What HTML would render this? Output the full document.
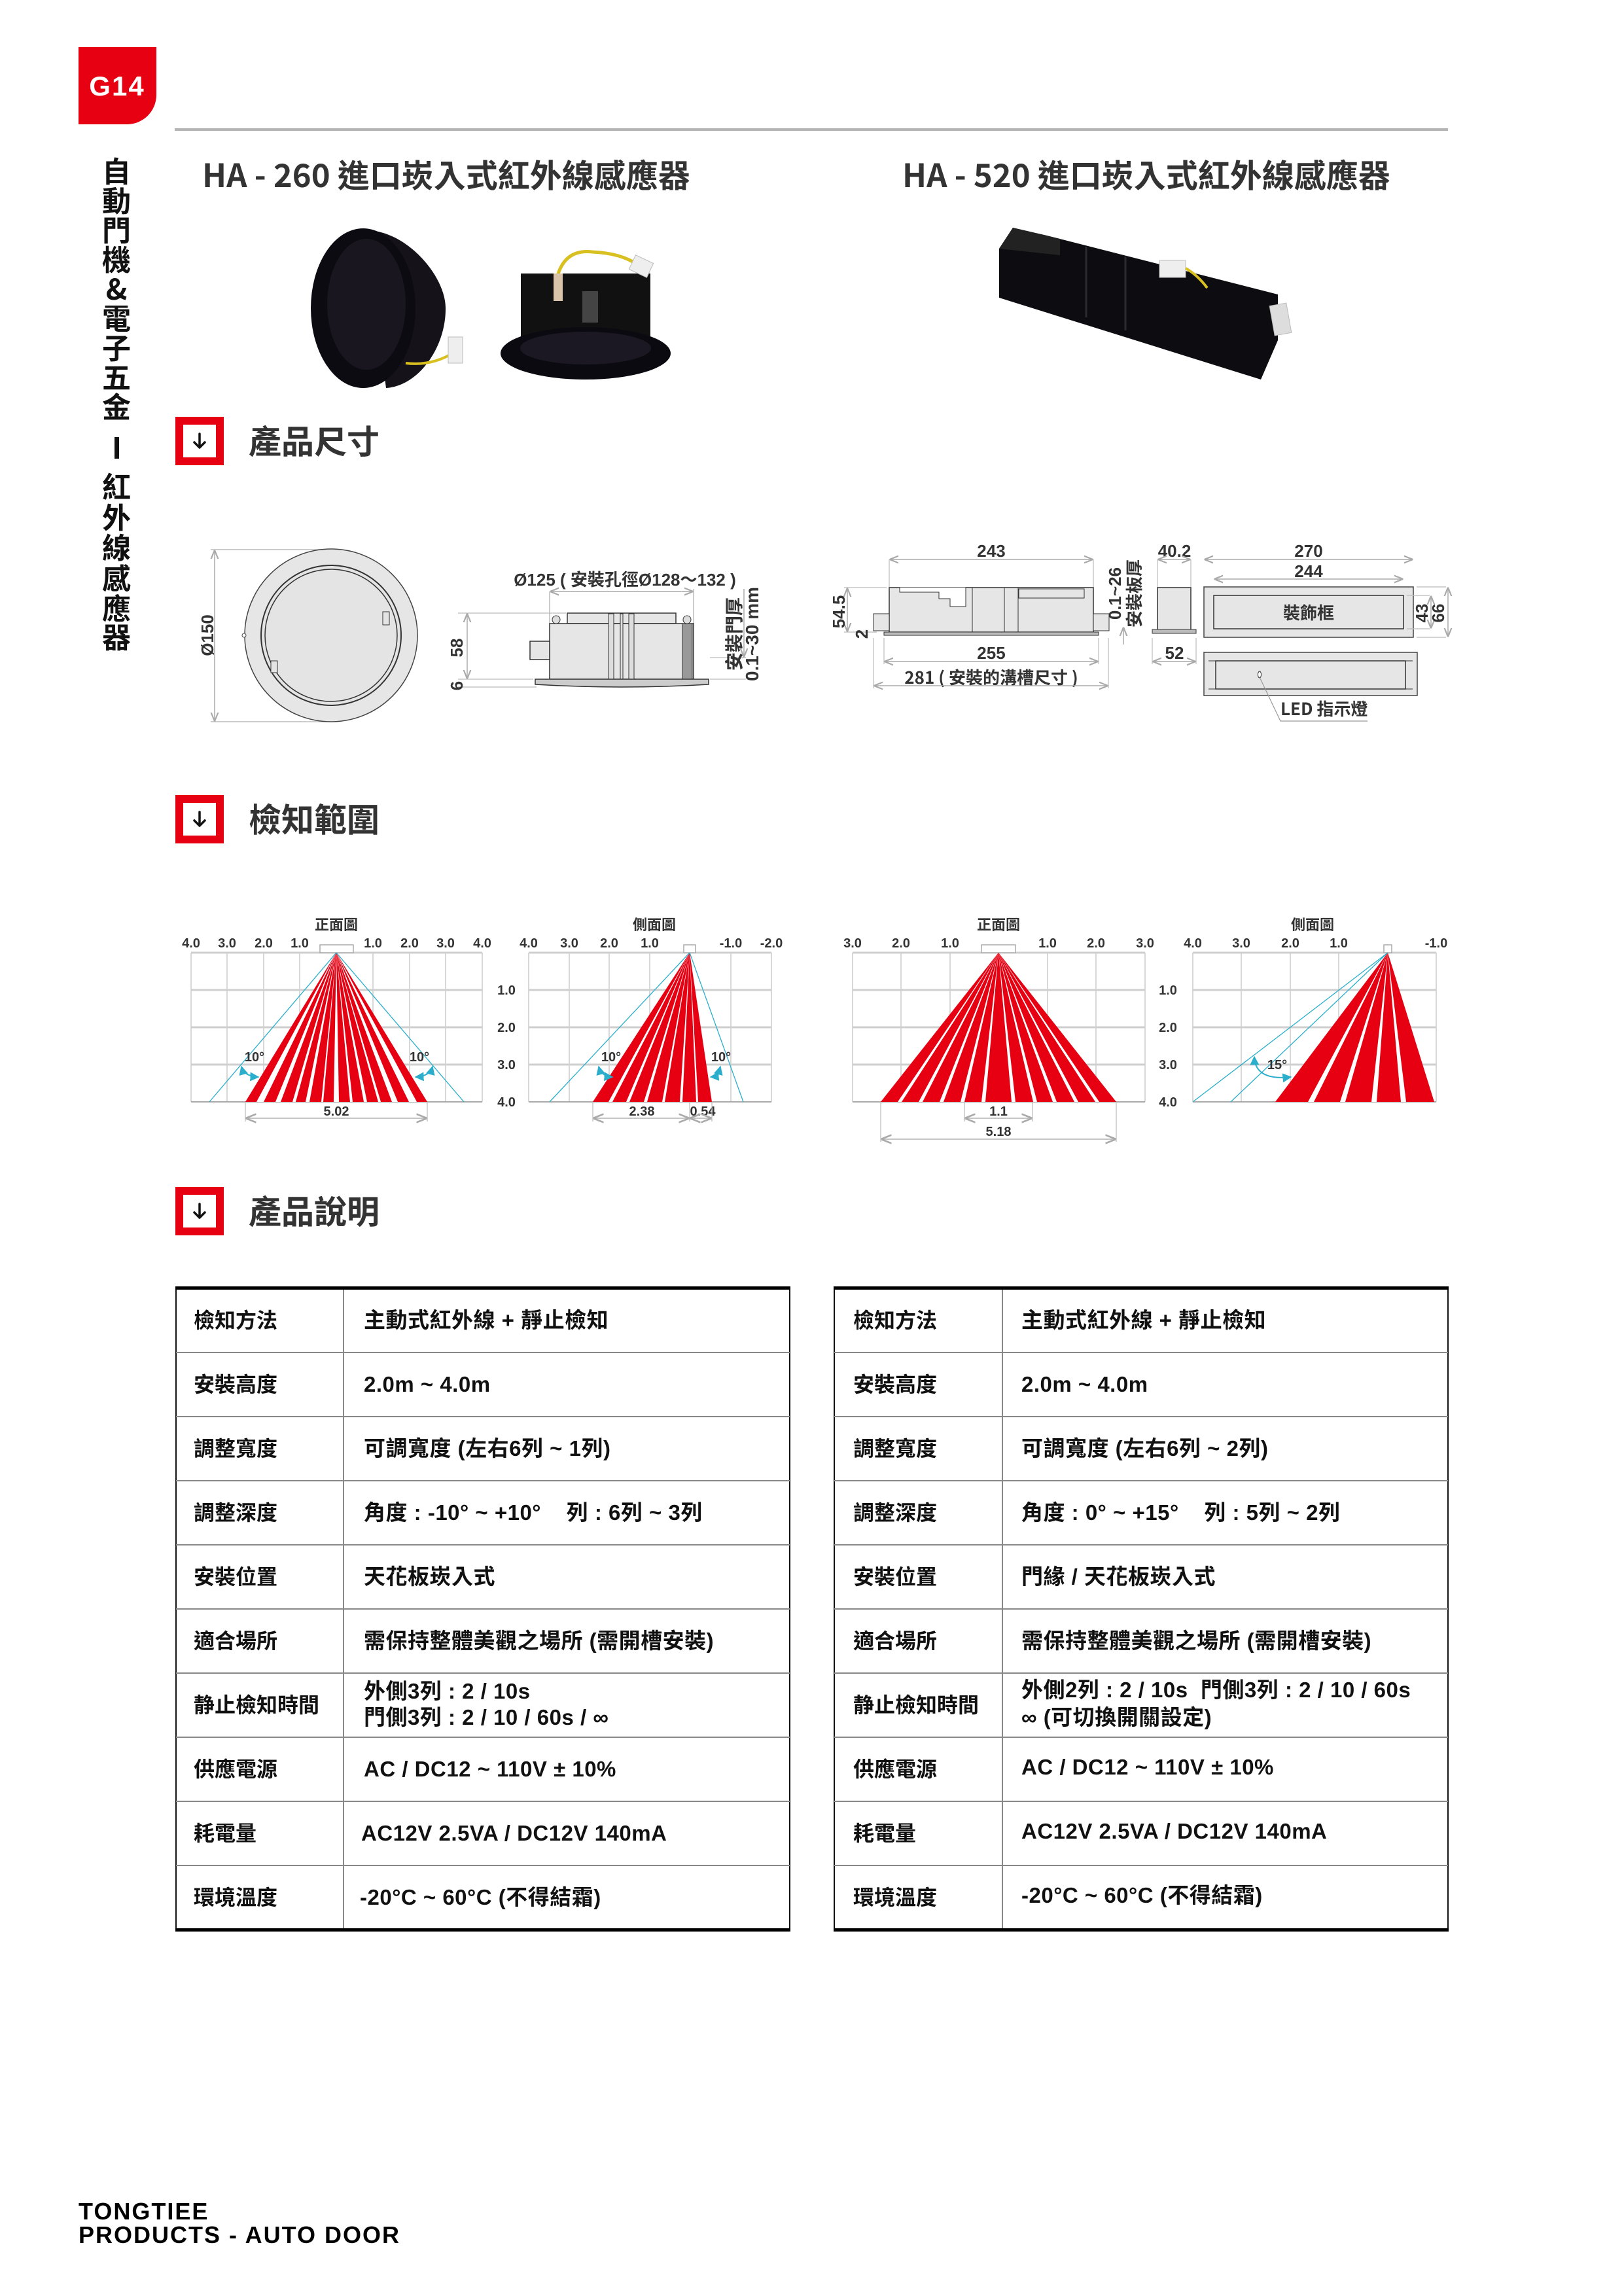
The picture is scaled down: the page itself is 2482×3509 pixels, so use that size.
<!DOCTYPE html>
<html><head><meta charset="utf-8">
<style>
html,body{margin:0;padding:0;background:#fff;}
body{width:2482px;height:3509px;position:relative;overflow:hidden;}
svg{position:absolute;left:0;top:0;}
</style></head>
<body>
<svg width="2482" height="3509" viewBox="0 0 2482 3509" xmlns="http://www.w3.org/2000/svg" font-family="'Liberation Sans','Noto Sans CJK TC',sans-serif">
<defs>
<marker id="ga" viewBox="0 0 10 10" refX="9" refY="5" markerWidth="9" markerHeight="9" orient="auto-start-reverse"><path d="M0,1 L10,5 L0,9" fill="none" stroke="#aaa" stroke-width="1.6"/></marker>
<marker id="ba" viewBox="0 0 10 10" refX="9" refY="5" markerWidth="7" markerHeight="7" orient="auto-start-reverse"><path d="M0,0 L10,5 L0,10 z" fill="#2aaecb"/></marker>
<g id="arr"><path d="M0,-11 V9 M-8,2 L0,10 L8,2" fill="none" stroke="#111" stroke-width="3.5" stroke-linecap="round" stroke-linejoin="round"/></g>
</defs>

<!-- badge -->
<path d="M120,72 H239 V145 A45,45 0 0 1 194,190 H120 Z" fill="#e60012"/>
<text x="179" y="146" font-size="42" font-weight="700" fill="#fff" text-anchor="middle" letter-spacing="2">G14</text>

<!-- sidebar -->
<g font-size="44" font-weight="700" fill="#111" text-anchor="middle" font-family="'Noto Sans CJK TC',sans-serif">
<text x="178" y="278">自</text><text x="178" y="323">動</text><text x="178" y="368">門</text><text x="178" y="413">機</text><text x="178" y="458">&amp;</text><text x="178" y="503">電</text><text x="178" y="548">子</text><text x="178" y="593">五</text><text x="178" y="638">金</text>
<rect x="175" y="668" width="7" height="33" fill="#111"/>
<text x="178" y="760">紅</text><text x="178" y="807">外</text><text x="178" y="853">線</text><text x="178" y="900">感</text><text x="178" y="946">應</text><text x="178" y="990">器</text>
</g>

<!-- top gray line -->
<rect x="267" y="196" width="1946" height="4" fill="#b5b5b5"/>

<!-- titles -->
<g font-size="49" font-weight="700" fill="#333" font-family="'Noto Sans CJK TC',sans-serif">
<text x="309" y="286">HA - 260 進口崁入式紅外線感應器</text>
<text x="1379" y="286">HA - 520 進口崁入式紅外線感應器</text>
</g>

<!-- HA-260 photos -->
<g>
<path d="M560,352 C620,352 680,420 681,470 C682,530 640,590 590,593 Z" fill="#15121a"/>
<ellipse cx="555" cy="471" rx="80" ry="122" fill="#0d0b12"/>
<ellipse cx="560" cy="465" rx="60" ry="100" fill="#19161f"/>
<path d="M620,555 Q660,560 695,538" stroke="#d8c020" stroke-width="4" fill="none"/>
<rect x="685" y="515" width="22" height="40" fill="#eee" stroke="#bbb"/>
<rect x="796" y="418" width="198" height="100" fill="#111"/>
<ellipse cx="895" cy="540" rx="130" ry="40" fill="#0b0a10"/>
<ellipse cx="895" cy="532" rx="100" ry="25" fill="#1b1823"/>
<path d="M850,430 Q860,380 905,385 Q950,387 975,405" stroke="#d8c020" stroke-width="5" fill="none"/>
<rect x="965" y="395" width="30" height="24" fill="#eee" stroke="#bbb" transform="rotate(25 980 407)"/>
<rect x="846" y="418" width="14" height="42" fill="#d9c4aa"/>
<rect x="890" y="445" width="24" height="48" fill="#444"/>
</g>

<!-- HA-520 photo -->
<g>
<polygon points="1527,380 1548,348 1600,360 1953,450 1953,520 1927,580 1527,455" fill="#0d0c11"/>
<polygon points="1527,380 1548,348 1620,365 1620,390" fill="#222"/>
<line x1="1660" y1="377" x2="1660" y2="485" stroke="#2a2a30" stroke-width="3"/>
<line x1="1720" y1="392" x2="1720" y2="505" stroke="#2a2a30" stroke-width="3"/>
<rect x="1772" y="398" width="40" height="26" fill="#eee" stroke="#bbb"/>
<path d="M1812,410 Q1830,420 1845,440" stroke="#d8c020" stroke-width="4" fill="none"/>
<rect x="1944" y="465" width="26" height="46" fill="#ddd" stroke="#bbb" transform="rotate(-10 1957 488)"/>
</g>

<!-- section headers -->
<g>
<rect x="274" y="643" width="62" height="62" fill="none" stroke="#e60012" stroke-width="12"/>
<use href="#arr" x="305" y="674"/>
<text x="380" y="693" font-size="50" font-weight="700" fill="#333" font-family="'Noto Sans CJK TC',sans-serif">產品尺寸</text>
<rect x="274" y="1221" width="62" height="62" fill="none" stroke="#e60012" stroke-width="12"/>
<use href="#arr" x="305" y="1252"/>
<text x="380" y="1271" font-size="50" font-weight="700" fill="#333" font-family="'Noto Sans CJK TC',sans-serif">檢知範圍</text>
<rect x="274" y="1820" width="62" height="62" fill="none" stroke="#e60012" stroke-width="12"/>
<use href="#arr" x="305" y="1851"/>
<text x="380" y="1870" font-size="50" font-weight="700" fill="#333" font-family="'Noto Sans CJK TC',sans-serif">產品說明</text>
</g>

<!-- HA-260 dimension: top view -->
<g>
<line x1="322" y1="840" x2="506" y2="840" stroke="#bbb" stroke-width="1.5"/>
<line x1="322" y1="1103" x2="506" y2="1103" stroke="#bbb" stroke-width="1.5"/>
<line x1="328" y1="842" x2="328" y2="1101" stroke="#aaa" stroke-width="1.5" marker-start="url(#ga)" marker-end="url(#ga)"/>
<text transform="translate(326 971) rotate(-90)" font-size="26" font-weight="700" fill="#333" text-anchor="middle">Ø150</text>
<circle cx="506" cy="971" r="132" fill="#e6e6e6" stroke="#444" stroke-width="1.5"/>
<circle cx="506" cy="971" r="107" fill="#e4e4e4" stroke="#333" stroke-width="2"/>
<circle cx="506" cy="971" r="101" fill="none" stroke="#333" stroke-width="1.5"/>
<rect x="585" y="935" width="10" height="20" fill="#e4e4e4" stroke="#333"/>
<rect x="414" y="1010" width="10" height="18" fill="#e4e4e4" stroke="#333"/>
<circle cx="373" cy="971" r="3" fill="#fff" stroke="#444"/>
</g>

<!-- HA-260 side view -->
<g>
<text x="955" y="895" font-size="26" font-weight="700" fill="#333" text-anchor="middle">Ø125 ( 安裝孔徑Ø128～132 )</text>
<line x1="840" y1="904" x2="840" y2="953" stroke="#bbb" stroke-width="1.5"/>
<line x1="1060" y1="900" x2="1060" y2="953" stroke="#bbb" stroke-width="1.5"/>
<line x1="842" y1="904" x2="1058" y2="904" stroke="#aaa" stroke-width="1.5" marker-start="url(#ga)" marker-end="url(#ga)"/>
<line x1="700" y1="937" x2="865" y2="937" stroke="#bbb" stroke-width="1.2"/>
<line x1="700" y1="1038" x2="815" y2="1038" stroke="#bbb" stroke-width="1.2"/>
<line x1="700" y1="1050" x2="820" y2="1050" stroke="#bbb" stroke-width="1.2"/>
<line x1="714" y1="939" x2="714" y2="1036" stroke="#aaa" stroke-width="1.5" marker-start="url(#ga)" marker-end="url(#ga)"/>
<text transform="translate(707 990) rotate(-90)" font-size="26" font-weight="700" fill="#333" text-anchor="middle">58</text>
<text transform="translate(707 1048) rotate(-90)" font-size="26" font-weight="700" fill="#333" text-anchor="middle">6</text>
<rect x="867" y="937" width="166" height="16" fill="#e6e6e6" stroke="#333" stroke-width="1.5"/>
<rect x="840" y="953" width="220" height="85" fill="#e6e6e6" stroke="#333" stroke-width="1.5"/>
<rect x="810" y="980" width="30" height="28" fill="#e6e6e6" stroke="#333" stroke-width="1.5"/>
<rect x="930" y="938" width="8" height="100" fill="#ddd" stroke="#333"/>
<rect x="948" y="938" width="4" height="100" fill="#ddd" stroke="#333"/>
<rect x="961" y="938" width="8" height="100" fill="#ddd" stroke="#333"/>
<rect x="1043" y="953" width="15" height="85" fill="#999" stroke="#333"/>
<circle cx="850" cy="947" r="6" fill="#ddd" stroke="#333"/>
<circle cx="1050" cy="947" r="6" fill="#ddd" stroke="#333"/>
<path d="M818,1038 H1083 V1046 Q950,1054 818,1046 Z" fill="#ccc" stroke="#333" stroke-width="1.5"/>
<line x1="1085" y1="1038" x2="1140" y2="1038" stroke="#bbb" stroke-width="1.2"/>
<line x1="1085" y1="1005" x2="1140" y2="1005" stroke="#bbb" stroke-width="1.2"/>
<line x1="1137" y1="900" x2="1137" y2="1003" stroke="#aaa" stroke-width="1.5" marker-end="url(#ga)"/>
<text transform="translate(1132 969) rotate(-90)" font-size="28" font-weight="700" fill="#333" text-anchor="middle" font-family="'Noto Sans CJK TC',sans-serif">安裝門厚</text>
<text transform="translate(1159 969) rotate(-90)" font-size="28" font-weight="700" fill="#333" text-anchor="middle">0.1~30 mm</text>
</g>

<!-- HA-520 dimensions -->
<g font-size="26" font-weight="700" fill="#333" text-anchor="middle">
<text x="1515" y="851">243</text>
<line x1="1359" y1="855" x2="1359" y2="898" stroke="#bbb" stroke-width="1.2"/>
<line x1="1671" y1="855" x2="1671" y2="898" stroke="#bbb" stroke-width="1.2"/>
<line x1="1361" y1="855" x2="1669" y2="855" stroke="#aaa" stroke-width="1.5" marker-start="url(#ga)" marker-end="url(#ga)"/>
<rect x="1359" y="898" width="312" height="68" fill="#e6e6e6" stroke="#333" stroke-width="1.5"/>
<rect x="1335" y="938" width="24" height="26" fill="#e6e6e6" stroke="#333"/>
<rect x="1671" y="938" width="24" height="26" fill="#e6e6e6" stroke="#333"/>
<rect x="1351" y="966" width="328" height="5" fill="#bbb" stroke="#333"/>
<path d="M1375,898 V905 H1435 V915 H1452 V927 H1476 V898" fill="#fff" stroke="#333"/>
<line x1="1486" y1="898" x2="1486" y2="966" stroke="#333"/>
<line x1="1535" y1="898" x2="1535" y2="966" stroke="#333"/>
<line x1="1556" y1="898" x2="1556" y2="966" stroke="#333"/>
<rect x="1557" y="900" width="100" height="14" fill="none" stroke="#333"/>
<line x1="1290" y1="898" x2="1355" y2="898" stroke="#bbb" stroke-width="1.2"/>
<line x1="1290" y1="966" x2="1340" y2="966" stroke="#bbb" stroke-width="1.2"/>
<line x1="1295" y1="900" x2="1295" y2="964" stroke="#aaa" stroke-width="1.5" marker-start="url(#ga)" marker-end="url(#ga)"/>
<text transform="translate(1291 935) rotate(-90)">54.5</text>
<text transform="translate(1326 969) rotate(-90)">2</text>
<text x="1515" y="1007">255</text>
<line x1="1351" y1="975" x2="1351" y2="1015" stroke="#bbb" stroke-width="1.2"/>
<line x1="1679" y1="975" x2="1679" y2="1015" stroke="#bbb" stroke-width="1.2"/>
<line x1="1353" y1="1011" x2="1677" y2="1011" stroke="#aaa" stroke-width="1.5" marker-start="url(#ga)" marker-end="url(#ga)"/>
<text x="1515" y="1045" font-family="'Noto Sans CJK TC',sans-serif">281 ( 安裝的溝槽尺寸 )</text>
<line x1="1335" y1="975" x2="1335" y2="1052" stroke="#bbb" stroke-width="1.2"/>
<line x1="1694" y1="975" x2="1694" y2="1052" stroke="#bbb" stroke-width="1.2"/>
<line x1="1337" y1="1048" x2="1692" y2="1048" stroke="#aaa" stroke-width="1.5" marker-start="url(#ga)" marker-end="url(#ga)"/>
<text transform="translate(1713 907) rotate(-90)">0.1~26</text>
<text transform="translate(1743 907) rotate(-90)" font-family="'Noto Sans CJK TC',sans-serif">安裝板厚</text>
<line x1="1717" y1="960" x2="1717" y2="985" stroke="#aaa" stroke-width="1.5" marker-start="url(#ga)"/>
<text x="1795" y="851">40.2</text>
<line x1="1769" y1="855" x2="1769" y2="898" stroke="#bbb" stroke-width="1.2"/>
<line x1="1820" y1="855" x2="1820" y2="898" stroke="#bbb" stroke-width="1.2"/>
<line x1="1771" y1="855" x2="1818" y2="855" stroke="#aaa" stroke-width="1.5" marker-start="url(#ga)" marker-end="url(#ga)"/>
<rect x="1769" y="898" width="51" height="68" fill="#e6e6e6" stroke="#333" stroke-width="1.5"/>
<rect x="1761" y="962" width="67" height="6" fill="#bbb" stroke="#333"/>
<text x="1795" y="1007">52</text>
<line x1="1761" y1="975" x2="1761" y2="1015" stroke="#bbb" stroke-width="1.2"/>
<line x1="1828" y1="975" x2="1828" y2="1015" stroke="#bbb" stroke-width="1.2"/>
<line x1="1763" y1="1011" x2="1826" y2="1011" stroke="#aaa" stroke-width="1.5" marker-start="url(#ga)" marker-end="url(#ga)"/>
<text x="2000" y="851">270</text>
<line x1="1842" y1="855" x2="2158" y2="855" stroke="#aaa" stroke-width="1.5" marker-start="url(#ga)" marker-end="url(#ga)"/>
<text x="2000" y="882">244</text>
<line x1="1857" y1="885" x2="2143" y2="885" stroke="#aaa" stroke-width="1.5" marker-start="url(#ga)" marker-end="url(#ga)"/>
<rect x="1840" y="897" width="320" height="77" fill="#e6e6e6" stroke="#444" stroke-width="1.5"/>
<rect x="1855" y="910" width="290" height="51" fill="#e6e6e6" stroke="#333" stroke-width="1.5"/>
<text x="2000" y="946" font-family="'Noto Sans CJK TC',sans-serif">裝飾框</text>
<line x1="2150" y1="910" x2="2185" y2="910" stroke="#bbb" stroke-width="1.2"/>
<line x1="2150" y1="961" x2="2185" y2="961" stroke="#bbb" stroke-width="1.2"/>
<line x1="2165" y1="897" x2="2210" y2="897" stroke="#bbb" stroke-width="1.2"/>
<line x1="2165" y1="974" x2="2210" y2="974" stroke="#bbb" stroke-width="1.2"/>
<line x1="2187" y1="912" x2="2187" y2="959" stroke="#aaa" stroke-width="1.5" marker-start="url(#ga)" marker-end="url(#ga)"/>
<line x1="2213" y1="899" x2="2213" y2="972" stroke="#aaa" stroke-width="1.5" marker-start="url(#ga)" marker-end="url(#ga)"/>
<text transform="translate(2182 937) rotate(-90)">43</text>
<text transform="translate(2207 937) rotate(-90)">66</text>
<rect x="1840" y="997" width="326" height="66" fill="#e6e6e6" stroke="#444" stroke-width="1.5"/>
<path d="M1847,1010 H1858 V1053 H1847" fill="none" stroke="#333"/>
<path d="M2159,1010 H2148 V1053 H2159" fill="none" stroke="#333"/>
<rect x="1858" y="1010" width="290" height="43" fill="#e6e6e6" stroke="#333" stroke-width="1.5"/>
<ellipse cx="1925" cy="1031" rx="2.5" ry="5" fill="#fff" stroke="#333"/>
<polyline points="1926,1037 1957,1102 2090,1102" fill="none" stroke="#999" stroke-width="1.2"/>
<text x="1957" y="1093" text-anchor="start" font-family="'Noto Sans CJK TC',sans-serif">LED 指示燈</text>
</g>

<!-- Charts -->
<g font-weight="700" fill="#333" text-anchor="middle">
<g stroke="#c4c4c4" stroke-width="1.3">
<line x1="292" y1="1456" x2="292" y2="1684"/><line x1="347" y1="1456" x2="347" y2="1684"/><line x1="403" y1="1456" x2="403" y2="1684"/><line x1="458" y1="1456" x2="458" y2="1684"/><line x1="514" y1="1456" x2="514" y2="1684"/><line x1="570" y1="1456" x2="570" y2="1684"/><line x1="626" y1="1456" x2="626" y2="1684"/><line x1="681" y1="1456" x2="681" y2="1684"/><line x1="737" y1="1456" x2="737" y2="1684"/>
<line x1="808" y1="1456" x2="808" y2="1684"/><line x1="870" y1="1456" x2="870" y2="1684"/><line x1="931" y1="1456" x2="931" y2="1684"/><line x1="993" y1="1456" x2="993" y2="1684"/><line x1="1054" y1="1456" x2="1054" y2="1684"/><line x1="1117" y1="1456" x2="1117" y2="1684"/><line x1="1179" y1="1456" x2="1179" y2="1684"/>
<line x1="1303" y1="1456" x2="1303" y2="1684"/><line x1="1377" y1="1456" x2="1377" y2="1684"/><line x1="1452" y1="1456" x2="1452" y2="1684"/><line x1="1526" y1="1456" x2="1526" y2="1684"/><line x1="1601" y1="1456" x2="1601" y2="1684"/><line x1="1675" y1="1456" x2="1675" y2="1684"/><line x1="1750" y1="1456" x2="1750" y2="1684"/>
<line x1="1823" y1="1456" x2="1823" y2="1684"/><line x1="1897" y1="1456" x2="1897" y2="1684"/><line x1="1972" y1="1456" x2="1972" y2="1684"/><line x1="2046" y1="1456" x2="2046" y2="1684"/><line x1="2121" y1="1456" x2="2121" y2="1684"/><line x1="2195" y1="1456" x2="2195" y2="1684"/>
</g>
<g stroke="#cfcfcf" stroke-width="3">
<line x1="292" y1="1456" x2="737" y2="1456"/><line x1="292" y1="1513" x2="737" y2="1513"/><line x1="292" y1="1570" x2="737" y2="1570"/><line x1="292" y1="1627" x2="737" y2="1627"/>
<line x1="808" y1="1456" x2="1179" y2="1456"/><line x1="808" y1="1513" x2="1179" y2="1513"/><line x1="808" y1="1570" x2="1179" y2="1570"/><line x1="808" y1="1627" x2="1179" y2="1627"/>
<line x1="1303" y1="1456" x2="1750" y2="1456"/><line x1="1303" y1="1513" x2="1750" y2="1513"/><line x1="1303" y1="1570" x2="1750" y2="1570"/><line x1="1303" y1="1627" x2="1750" y2="1627"/>
<line x1="1823" y1="1456" x2="2195" y2="1456"/><line x1="1823" y1="1513" x2="2195" y2="1513"/><line x1="1823" y1="1570" x2="2195" y2="1570"/><line x1="1823" y1="1627" x2="2195" y2="1627"/>
</g>
<g stroke="#aaa" stroke-width="2">
<line x1="292" y1="1684" x2="737" y2="1684"/><line x1="808" y1="1684" x2="1179" y2="1684"/><line x1="1303" y1="1684" x2="1750" y2="1684"/><line x1="1823" y1="1684" x2="2195" y2="1684"/>
</g>
<g fill="#fff" stroke="#aaa" stroke-width="1.5">
<rect x="489" y="1444" width="51" height="12"/><rect x="1045" y="1444" width="18" height="12"/><rect x="1500" y="1444" width="52" height="12"/><rect x="2115" y="1444" width="12" height="12"/>
</g>

<polygon points="514,1456 375,1684 653,1684" fill="#e60012"/>
<g fill="#fff">
<polygon points="514,1456 392,1684 403,1684"/><polygon points="514,1456 421,1684 429,1684"/><polygon points="514,1456 447,1684 452,1684"/><polygon points="514,1456 467,1684 473,1684"/><polygon points="514,1456 491,1684 494,1684"/><polygon points="514,1456 510,1684 518,1684"/><polygon points="514,1456 535,1684 539,1684"/><polygon points="514,1456 556,1684 561,1684"/><polygon points="514,1456 578,1684 582,1684"/><polygon points="514,1456 599,1684 608,1684"/><polygon points="514,1456 625,1684 637,1684"/>
</g>
<polygon points="1054,1456 906,1684 1088,1684" fill="#e60012"/>
<g fill="#fff">
<polygon points="1054,1456 930,1684 936,1684"/><polygon points="1054,1456 957,1684 962,1684"/><polygon points="1054,1456 984,1684 989,1684"/><polygon points="1054,1456 1012,1684 1016,1684"/><polygon points="1054,1456 1039,1684 1043,1684"/><polygon points="1054,1456 1064,1684 1067,1684"/>
</g>
<polygon points="1526,1456 1346,1684 1706,1684" fill="#e60012"/>
<g fill="#fff">
<polygon points="1526,1456 1372,1684 1378,1684"/><polygon points="1526,1456 1404,1684 1410,1684"/><polygon points="1526,1456 1436,1684 1442,1684"/><polygon points="1526,1456 1468,1684 1474,1684"/><polygon points="1526,1456 1500,1684 1506,1684"/><polygon points="1526,1456 1546,1684 1552,1684"/><polygon points="1526,1456 1579,1684 1585,1684"/><polygon points="1526,1456 1609,1684 1615,1684"/><polygon points="1526,1456 1642,1684 1648,1684"/><polygon points="1526,1456 1674,1684 1680,1684"/>
</g>
<polygon points="2121,1456 1949,1684 2192,1684" fill="#e60012"/>
<g fill="#fff">
<polygon points="2121,1456 1999,1684 2008,1684"/><polygon points="2121,1456 2048,1684 2056,1684"/><polygon points="2121,1456 2096,1684 2104,1684"/><polygon points="2121,1456 2141,1684 2149,1684"/>
</g>

<g stroke="#2aaecb" stroke-width="1.3" fill="none">
<line x1="514" y1="1456" x2="320" y2="1684"/><line x1="514" y1="1456" x2="709" y2="1684"/>
<line x1="1054" y1="1456" x2="840" y2="1684"/><line x1="1054" y1="1456" x2="1136" y2="1684"/>
<line x1="2121" y1="1456" x2="1823" y2="1684"/><line x1="2121" y1="1456" x2="1881" y2="1684"/>
<path d="M369,1630 Q373,1645 395,1646" stroke-width="2" marker-start="url(#ba)" marker-end="url(#ba)"/>
<path d="M661,1630 Q657,1645 635,1646" stroke-width="2" marker-start="url(#ba)" marker-end="url(#ba)"/>
<path d="M915,1630 Q919,1645 936,1646" stroke-width="2" marker-start="url(#ba)" marker-end="url(#ba)"/>
<path d="M1101,1630 Q1097,1645 1086,1646" stroke-width="2" marker-start="url(#ba)" marker-end="url(#ba)"/>
<path d="M1917,1615 Q1918,1652 1973,1646" stroke-width="2" marker-start="url(#ba)" marker-end="url(#ba)"/>
</g>

<g font-size="22" font-family="'Noto Sans CJK TC',sans-serif">
<text x="514" y="1421">正面圖</text><text x="1000" y="1421">側面圖</text><text x="1526" y="1421">正面圖</text><text x="2006" y="1421">側面圖</text>
</g>
<g font-size="20">
<text x="292" y="1448">4.0</text><text x="347" y="1448">3.0</text><text x="403" y="1448">2.0</text><text x="458" y="1448">1.0</text><text x="570" y="1448">1.0</text><text x="626" y="1448">2.0</text><text x="681" y="1448">3.0</text><text x="737" y="1448">4.0</text>
<text x="808" y="1448">4.0</text><text x="870" y="1448">3.0</text><text x="931" y="1448">2.0</text><text x="993" y="1448">1.0</text><text x="1117" y="1448">-1.0</text><text x="1179" y="1448">-2.0</text>
<text x="1303" y="1448">3.0</text><text x="1377" y="1448">2.0</text><text x="1452" y="1448">1.0</text><text x="1601" y="1448">1.0</text><text x="1675" y="1448">2.0</text><text x="1750" y="1448">3.0</text>
<text x="1823" y="1448">4.0</text><text x="1897" y="1448">3.0</text><text x="1972" y="1448">2.0</text><text x="2046" y="1448">1.0</text><text x="2195" y="1448">-1.0</text>
<text x="774" y="1520">1.0</text><text x="774" y="1577">2.0</text><text x="774" y="1634">3.0</text><text x="774" y="1691">4.0</text>
<text x="1785" y="1520">1.0</text><text x="1785" y="1577">2.0</text><text x="1785" y="1634">3.0</text><text x="1785" y="1691">4.0</text>
<text x="389" y="1622">10°</text><text x="641" y="1622">10°</text><text x="934" y="1622">10°</text><text x="1102" y="1622">10°</text><text x="1952" y="1634">15°</text>
<text x="514" y="1705">5.02</text><text x="981" y="1705">2.38</text><text x="1074" y="1705">0.54</text>
<text x="1526" y="1705">1.1</text><text x="1526" y="1736">5.18</text>
</g>
<g stroke="#bbb" stroke-width="1.2">
<line x1="375" y1="1684" x2="375" y2="1714"/><line x1="653" y1="1684" x2="653" y2="1714"/>
<line x1="906" y1="1684" x2="906" y2="1714"/><line x1="1054" y1="1684" x2="1054" y2="1714"/><line x1="1088" y1="1684" x2="1088" y2="1714"/>
<line x1="1346" y1="1684" x2="1346" y2="1745"/><line x1="1706" y1="1684" x2="1706" y2="1745"/><line x1="1474" y1="1684" x2="1474" y2="1714"/><line x1="1578" y1="1684" x2="1578" y2="1714"/>
</g>
<g stroke="#bbb" stroke-width="1.8" fill="none">
<line x1="377" y1="1709" x2="651" y2="1709" marker-start="url(#ga)" marker-end="url(#ga)"/>
<line x1="908" y1="1709" x2="1052" y2="1709" marker-start="url(#ga)" marker-end="url(#ga)"/>
<line x1="1056" y1="1709" x2="1086" y2="1709" marker-start="url(#ga)" marker-end="url(#ga)"/>
<line x1="1476" y1="1709" x2="1576" y2="1709" marker-start="url(#ga)" marker-end="url(#ga)"/>
<line x1="1348" y1="1741" x2="1704" y2="1741" marker-start="url(#ga)" marker-end="url(#ga)"/>
</g>
</g>

<!-- Tables (row height 98) -->
<g stroke-width="2">
<rect x="269" y="1969" width="938" height="980" fill="none" stroke="#111" stroke-width="2"/>
<line x1="525" y1="1969" x2="525" y2="2949" stroke="#888"/>
<g stroke="#888">
<line x1="269" y1="2067" x2="1207" y2="2067"/><line x1="269" y1="2165" x2="1207" y2="2165"/><line x1="269" y1="2263" x2="1207" y2="2263"/><line x1="269" y1="2361" x2="1207" y2="2361"/><line x1="269" y1="2459" x2="1207" y2="2459"/><line x1="269" y1="2557" x2="1207" y2="2557"/><line x1="269" y1="2655" x2="1207" y2="2655"/><line x1="269" y1="2753" x2="1207" y2="2753"/><line x1="269" y1="2851" x2="1207" y2="2851"/>
</g>
<rect x="268" y="1966" width="940" height="5" fill="#000" stroke="none"/>
<rect x="268" y="2947" width="940" height="5" fill="#000" stroke="none"/>
<rect x="1275" y="1969" width="938" height="980" fill="none" stroke="#111" stroke-width="2"/>
<line x1="1532" y1="1969" x2="1532" y2="2949" stroke="#888"/>
<g stroke="#888">
<line x1="1275" y1="2067" x2="2213" y2="2067"/><line x1="1275" y1="2165" x2="2213" y2="2165"/><line x1="1275" y1="2263" x2="2213" y2="2263"/><line x1="1275" y1="2361" x2="2213" y2="2361"/><line x1="1275" y1="2459" x2="2213" y2="2459"/><line x1="1275" y1="2557" x2="2213" y2="2557"/><line x1="1275" y1="2655" x2="2213" y2="2655"/><line x1="1275" y1="2753" x2="2213" y2="2753"/><line x1="1275" y1="2851" x2="2213" y2="2851"/>
</g>
<rect x="1274" y="1966" width="940" height="5" fill="#000" stroke="none"/>
<rect x="1274" y="2947" width="940" height="5" fill="#000" stroke="none"/>
</g>
<g font-size="32" font-weight="700" fill="#111">
<text x="296" y="2029">檢知方法</text><text x="296" y="2127">安裝高度</text><text x="296" y="2225">調整寬度</text><text x="296" y="2323">調整深度</text><text x="296" y="2421">安裝位置</text><text x="296" y="2519">適合場所</text><text x="296" y="2617">静止檢知時間</text><text x="296" y="2715">供應電源</text><text x="296" y="2813">耗電量</text><text x="296" y="2911">環境溫度</text>
<text x="1304" y="2029">檢知方法</text><text x="1304" y="2127">安裝高度</text><text x="1304" y="2225">調整寬度</text><text x="1304" y="2323">調整深度</text><text x="1304" y="2421">安裝位置</text><text x="1304" y="2519">適合場所</text><text x="1304" y="2617">静止檢知時間</text><text x="1304" y="2715">供應電源</text><text x="1304" y="2813">耗電量</text><text x="1304" y="2911">環境溫度</text>
</g>
<g font-size="33" font-weight="700" fill="#111" letter-spacing="0.5">
<text x="556" y="2029">主動式紅外線 + 靜止檢知</text>
<text x="556" y="2127">2.0m ~ 4.0m</text>
<text x="556" y="2225">可調寬度 (左右6列 ~ 1列)</text>
<text x="556" y="2323" xml:space="preserve">角度 : -10° ~ +10°    列 : 6列 ~ 3列</text>
<text x="556" y="2421">天花板崁入式</text>
<text x="556" y="2519">需保持整體美觀之場所 (需開槽安裝)</text>
<text x="556" y="2596">外側3列 : 2 / 10s</text>
<text x="556" y="2636">門側3列 : 2 / 10 / 60s / ∞</text>
<text x="556" y="2715">AC / DC12 ~ 110V ± 10%</text>
<text x="552" y="2813">AC12V 2.5VA / DC12V 140mA</text>
<text x="550" y="2911">-20°C ~ 60°C (不得結霜)</text>
<text x="1561" y="2029">主動式紅外線 + 靜止檢知</text>
<text x="1561" y="2127">2.0m ~ 4.0m</text>
<text x="1561" y="2225">可調寬度 (左右6列 ~ 2列)</text>
<text x="1561" y="2323" xml:space="preserve">角度 : 0° ~ +15°    列 : 5列 ~ 2列</text>
<text x="1561" y="2421">門緣 / 天花板崁入式</text>
<text x="1561" y="2519">需保持整體美觀之場所 (需開槽安裝)</text>
<text x="1561" y="2594" xml:space="preserve">外側2列 : 2 / 10s  門側3列 : 2 / 10 / 60s</text>
<text x="1561" y="2636">∞ (可切換開關設定)</text>
<text x="1561" y="2712">AC / DC12 ~ 110V ± 10%</text>
<text x="1561" y="2810">AC12V 2.5VA / DC12V 140mA</text>
<text x="1561" y="2908">-20°C ~ 60°C (不得結霜)</text>
</g>

<!-- footer -->
<g font-size="36" font-weight="700" fill="#000" letter-spacing="2">
<text x="120" y="3392">TONGTIEE</text>
<text x="120" y="3428">PRODUCTS - AUTO DOOR</text>
</g>
</svg>
</body></html>
